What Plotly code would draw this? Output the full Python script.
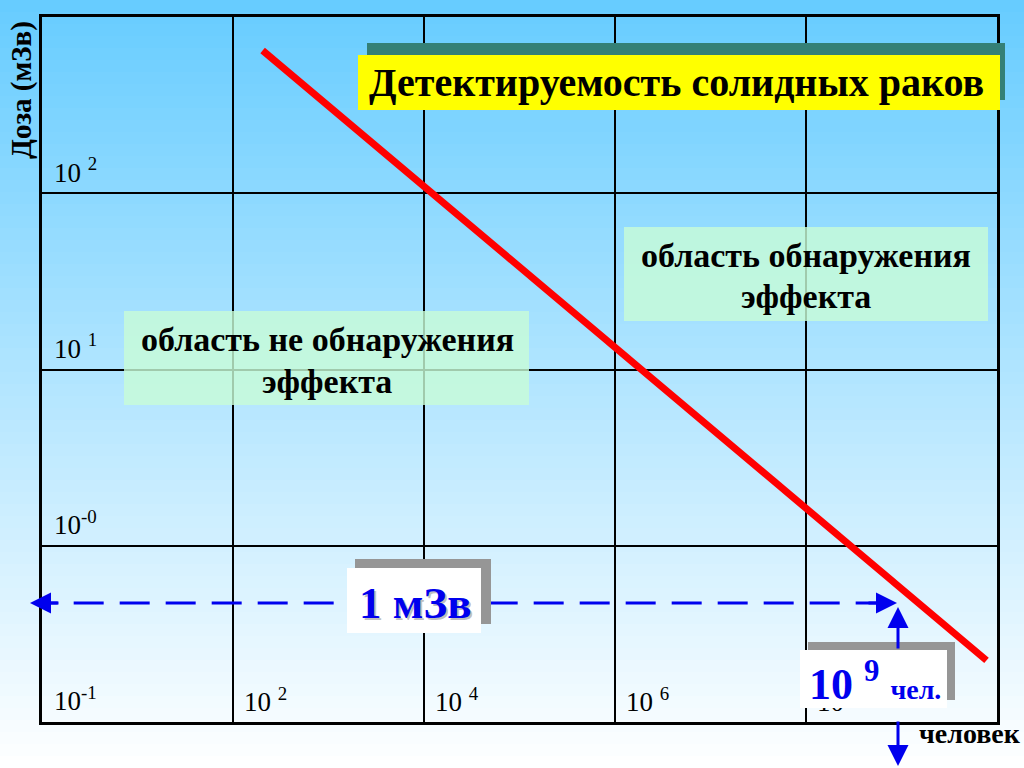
import plotly.graph_objects as go

# ---- data (log10 units) ----
line_log_people = [2.31, 9.89]      # log10(number of people) at ends of the red line
line_log_dose = [2.81, -0.65]       # log10(dose, mSv) at ends of the red line
threshold_log_dose = -0.325         # 1 mSv reference line (schematic position)
threshold_log_people = [-0.15, 8.95]
x_ticks = [2, 4, 6, 8]
x_tick_labels = ["10 <sup>2</sup>", "10 <sup>4</sup>", "10 <sup>6</sup>", "10 <sup>8</sup>"]
y_ticks = [2, 1, 0, -1]
y_tick_labels = ["10 <sup>2</sup>", "10 <sup>1</sup>", "10<sup>-0</sup>", "10<sup>-1</sup>"]

W, H = 1024, 768
def px(x): return x / W
def py(y): return 1 - y / H

SERIF = "Liberation Serif, Times New Roman, serif"
BLUE = "#0000ee"

fig = go.Figure()

# red line
fig.add_trace(go.Scatter(x=line_log_people, y=line_log_dose, mode="lines",
                         line=dict(color="#ff0000", width=7), hoverinfo="skip"))
# dashed 1 mSv line
fig.add_trace(go.Scatter(x=threshold_log_people, y=[threshold_log_dose] * 2, mode="lines",
                         line=dict(color=BLUE, width=3, dash="30px,16px"), hoverinfo="skip"))
# tick labels as text trace (so boxes can cover them)
xr = 10.0 / (997 - 42)   # data units per pixel (x)
yr = 4.0 / (722 - 17)    # data units per pixel (y)
fig.add_trace(go.Scatter(x=[t + 11 * xr for t in x_ticks], y=[-1 + 4 * yr] * len(x_ticks),
                         mode="text", text=x_tick_labels, textposition="top right",
                         textfont=dict(family=SERIF, size=27, color="black"),
                         cliponaxis=False, hoverinfo="skip"))
fig.add_trace(go.Scatter(x=[12 * xr] * len(y_ticks), y=[t + 5 * yr for t in y_ticks],
                         mode="text", text=y_tick_labels, textposition="top right",
                         textfont=dict(family=SERIF, size=27, color="black"),
                         cliponaxis=False, hoverinfo="skip"))

shapes = []
# background gradient
top = (102, 204, 255)
bot = (255, 255, 255)
n = 64
for i in range(n):
    t = (i + 0.5) / n
    c = tuple(round(top[k] + (bot[k] - top[k]) * t) for k in range(3))
    shapes.append(dict(type="rect", xref="paper", yref="paper", layer="below",
                       x0=0, x1=1, y0=py(i * H / n), y1=py((i + 1) * H / n + 1),
                       fillcolor="rgb(%d,%d,%d)" % c, line=dict(width=0)))

def rect(x0, y0, x1, y1, color, opacity=1.0):
    shapes.append(dict(type="rect", xref="paper", yref="paper", layer="above",
                       x0=px(x0), x1=px(x1), y0=py(y1), y1=py(y0),
                       fillcolor=color, opacity=opacity, line=dict(width=0)))

# title box
rect(367, 43, 1005, 100, "rgb(52,128,118)")
rect(358, 55, 1000, 110, "#ffff00")
# region boxes
rect(124, 311, 529, 405, "rgb(200,252,215)", 0.8)
rect(624, 227, 988, 321, "rgb(200,252,215)", 0.8)
# 1 mSv box
rect(355, 559, 491, 624, "rgb(150,150,150)")
rect(347, 568, 481, 633, "white")
# 10^9 box
rect(808, 642, 955, 700, "rgb(150,150,150)")
rect(800, 650, 947, 708, "white")

ann = []
def text(x, y, s, size, color="black", bold=True, angle=0, xanchor="center"):
    ann.append(dict(xref="paper", yref="paper", x=px(x), y=py(y), text=s, showarrow=False,
                    xanchor=xanchor, yanchor="middle", textangle=angle,
                    font=dict(family=SERIF, size=size, color=color,
                              weight="bold" if bold else "normal")))

text(676, 82, "Детектируемость солидных раков", 40)
text(327, 340, "область не обнаружения", 34)
text(327, 381, "эффекта", 34)
text(806, 256, "область обнаружения", 34)
text(806, 296, "эффекта", 34)
text(417, 605, "1 мЗв", 45, color="rgba(0,0,0,0.25)")
text(415, 603, "1 мЗв", 45, color=BLUE)
text(875, 681, "10 <sup>9</sup> <span style='font-size:28px'>чел.</span>", 44, color=BLUE)
text(970, 733, "человек", 28)
text(21, 90, "Доза (мЗв)", 29, angle=-90)

def arrow(x, y, ax, ay):
    ann.append(dict(xref="paper", yref="paper", x=px(x), y=py(y), ax=ax, ay=ay,
                    text="", showarrow=True, arrowhead=2, arrowsize=1.4,
                    arrowwidth=3, arrowcolor=BLUE))

arrow(30, 603, 30, 0)
arrow(897, 603, -30, 0)
arrow(898, 607, 0, 43)
arrow(898, 766, 0, -46)

fig.update_layout(
    width=W, height=H, margin=dict(l=0, r=0, t=0, b=0),
    paper_bgcolor="white", plot_bgcolor="rgba(0,0,0,0)",
    showlegend=False, shapes=shapes, annotations=ann,
    xaxis=dict(domain=[px(42), px(997)], range=[0, 10], dtick=2, tick0=0,
               showgrid=True, gridcolor="black", gridwidth=1.5, zeroline=False,
               showline=True, mirror=True, linecolor="black", linewidth=3,
               showticklabels=False, ticks=""),
    yaxis=dict(domain=[py(722), py(17)], range=[-1, 3], dtick=1, tick0=0,
               showgrid=True, gridcolor="black", gridwidth=1.5, zeroline=False,
               showline=True, mirror=True, linecolor="black", linewidth=3,
               showticklabels=False, ticks=""),
)

fig.write_html("out.html", config={"displayModeBar": False},
               post_script="document.body.style.margin='0';")
